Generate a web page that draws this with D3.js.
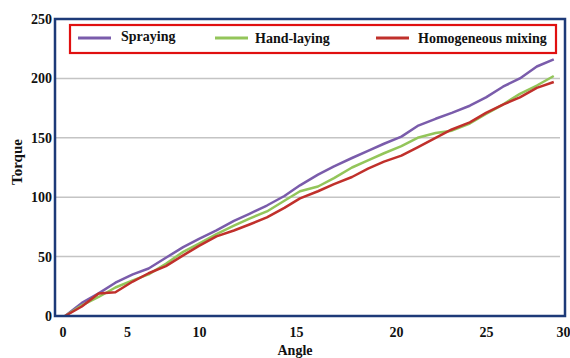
<!DOCTYPE html>
<html>
<head>
<meta charset="utf-8">
<script src="https://cdn.jsdelivr.net/npm/d3@7"></script>
<style>
  body { margin: 0; background: #fff; }
  text { font-family: "Liberation Serif", "Times New Roman", serif; font-weight: bold; fill: #111; }
</style>
</head>
<body>
<svg id="chart" width="570" height="358"></svg>
<script>
// Torque versus angle for three application methods
const angles = [0.2, 1.5, 2.8, 4.1, 5.4, 6.5, 7.7, 8.9, 10.0, 10.9, 11.8, 12.6, 13.5, 14.4, 15.2,
                16.1, 16.9, 17.8, 18.6, 19.4, 20.3, 21.2, 22.2, 23.1, 24.1, 25.0, 26.1, 27.2, 28.3, 29.4];
const spraying    = [0, 11, 19, 28, 35, 40, 49, 58, 65, 72, 80, 86, 93, 101, 110,
                     119, 126, 133, 139, 145, 151, 160, 166, 171, 177, 184, 193, 200, 210, 216];
const handLaying  = [0, 9, 16, 24, 30, 35, 44, 54, 61, 69, 76, 82, 88, 97, 105,
                     109, 116, 125, 131, 137, 143, 150, 154, 156, 162, 170, 178, 187, 194, 202];
const homogeneous = [0, 8, 19, 20, 29, 36, 42, 51, 59, 67, 72, 77, 83, 91, 99,
                     105, 111, 117, 124, 130, 135, 142, 150, 157, 163, 171, 178, 184, 192, 197];
const seriesNames = ["Spraying", "Hand-laying", "Homogeneous mixing"];
const seriesColors = ["#7a5cab", "#93c55a", "#c0302b"];
const xTicks = [0, 5, 10, 15, 20, 25, 30];
const yTicks = [0, 50, 100, 150, 200, 250];

const svg = d3.select("#chart");
const frame = { left: 55, top: 19, right: 565, bottom: 316 };

// Angle axis labels sit at uneven spacing, so the scale is piecewise linear
const x = d3.scaleLinear()
  .domain(xTicks)
  .range([62.5, 127, 199, 296, 396, 486, 563]);
const y = d3.scaleLinear().domain([0, 250]).range([frame.bottom, frame.top]);

// horizontal gridlines
svg.append("g")
  .selectAll("line")
  .data(yTicks.filter(d => d > 0 && d < 250))
  .join("line")
  .attr("x1", frame.left).attr("x2", frame.right - 5)
  .attr("y1", d => y(d)).attr("y2", d => y(d))
  .attr("stroke", "#c4c4c4").attr("stroke-width", 1.5);

// y axis labels
const yAxis = d3.axisLeft(y).tickValues(yTicks).tickSize(0).tickPadding(3);
const gy = svg.append("g").attr("transform", `translate(${frame.left - 0},0)`).call(yAxis);
gy.select(".domain").remove();
gy.selectAll("text").attr("font-size", 14).attr("font-family", "Liberation Serif").attr("font-weight", "bold").attr("fill", "#111");

// x axis labels
const xAxis = d3.axisBottom(x).tickValues(xTicks).tickSize(0).tickPadding(11);
const gx = svg.append("g").attr("transform", `translate(0,${frame.bottom})`).call(xAxis);
gx.select(".domain").remove();
gx.selectAll("text").attr("font-size", 14).attr("font-family", "Liberation Serif").attr("font-weight", "bold").attr("fill", "#111");

// series lines
const allSeries = [spraying, handLaying, homogeneous];
const line = d3.line().x((d, i) => x(angles[i])).y(d => y(d));
svg.append("g")
  .selectAll("path")
  .data(allSeries)
  .join("path")
  .attr("d", d => line(d))
  .attr("fill", "none")
  .attr("stroke", (d, i) => seriesColors[i])
  .attr("stroke-width", 2.5)
  .attr("stroke-linejoin", "round");

// plot frame
svg.append("rect")
  .attr("x", frame.left).attr("y", frame.top)
  .attr("width", frame.right - frame.left).attr("height", frame.bottom - frame.top)
  .attr("fill", "none").attr("stroke", "#1d3a78").attr("stroke-width", 2.5);

// axis titles
svg.append("text")
  .attr("x", 295).attr("y", 355)
  .attr("text-anchor", "middle").attr("font-size", 14)
  .text("Angle");
svg.append("text")
  .attr("transform", "translate(22,162) rotate(-90)")
  .attr("text-anchor", "middle").attr("font-size", 15)
  .text("Torque");

// legend
const legend = svg.append("g");
legend.append("rect")
  .attr("x", 70).attr("y", 25).attr("width", 486).attr("height", 28)
  .attr("fill", "#fff").attr("stroke", "#e01010").attr("stroke-width", 2.2);
const legendX = [78, 215, 376];
const item = legend.selectAll("g.item")
  .data(seriesNames)
  .join("g")
  .attr("class", "item")
  .attr("transform", (d, i) => `translate(${legendX[i]},38)`);
item.append("line")
  .attr("x1", 0).attr("x2", 33).attr("y1", 0).attr("y2", 0)
  .attr("stroke", (d, i) => seriesColors[i]).attr("stroke-width", 3);
item.append("text")
  .attr("x", (d, i) => i === 0 ? 43 : (i === 1 ? 40 : 42))
  .attr("y", (d, i) => i === 0 ? 3 : 5)
  .attr("font-size", 14)
  .text(d => d);
</script>
</body>
</html>
